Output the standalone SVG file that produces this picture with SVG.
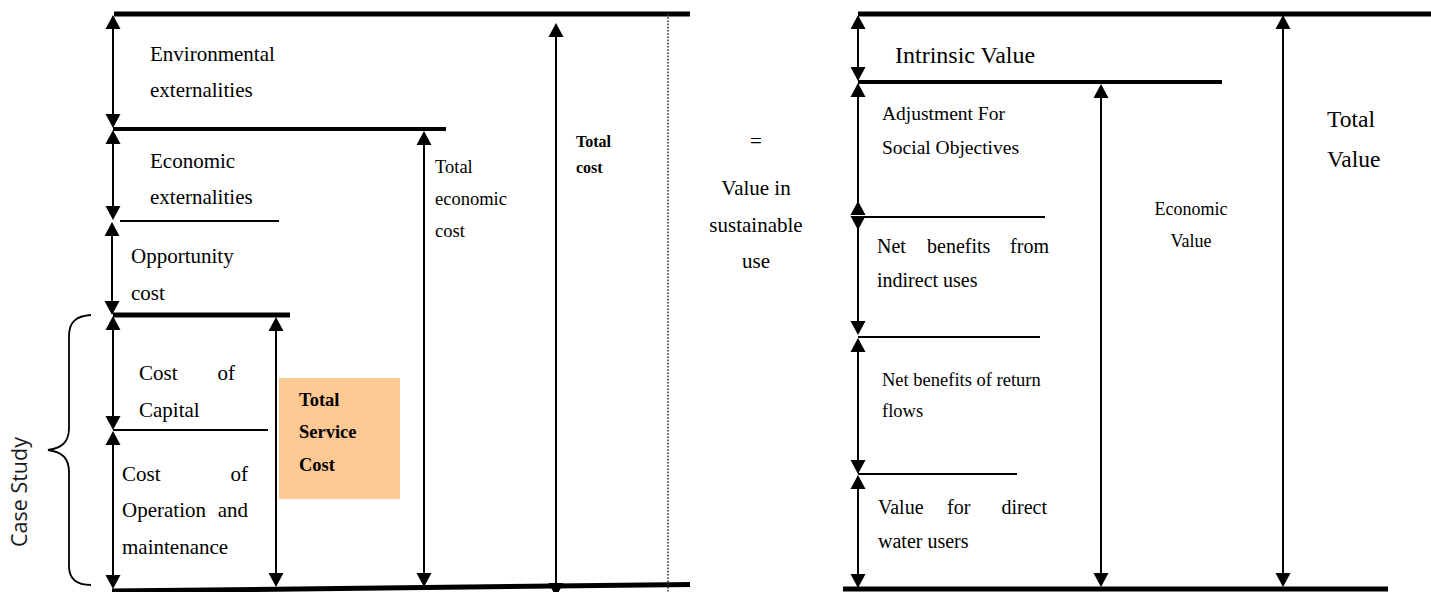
<svg xmlns="http://www.w3.org/2000/svg" width="1431" height="592" viewBox="0 0 1431 592">
<style>
  .t{font-family:"Liberation Serif","Times New Roman",serif;fill:#000}
  .b{font-weight:bold}
  .thick{stroke:#000;stroke-width:5;fill:none}
  .mid{stroke:#000;stroke-width:4;fill:none}
  .thin{stroke:#000;stroke-width:2;fill:none}
  .shaft{stroke:#000;stroke-width:2;fill:none}
  .ah{fill:#000}
</style>
<defs>
  <path id="up" class="ah" d="M0,0 L-7.5,14 L7.5,14 Z"/>
  <path id="dn" class="ah" d="M0,0 L-7.5,-14 L7.5,-14 Z"/>
</defs>
<rect width="1431" height="592" fill="#fff"/>

<!-- level lines -->
<g id="levels">
  <line class="thick" x1="114" y1="14" x2="690" y2="14"/>
  <line class="mid" x1="113" y1="129" x2="446" y2="129"/>
  <line class="thin" x1="120" y1="221" x2="279" y2="221"/>
  <line class="thick" x1="113" y1="315" x2="290" y2="315"/>
  <line class="thin" x1="113" y1="430" x2="268" y2="430"/>
  <line class="thick" x1="112" y1="591" x2="690" y2="584.5"/>
  <line x1="668" y1="14" x2="668" y2="592" stroke="#333" stroke-width="1.6" stroke-dasharray="1.6 1.6"/>

  <line class="thick" x1="858" y1="14" x2="1431" y2="14"/>
  <line class="mid" x1="858" y1="82" x2="1222" y2="82"/>
  <line class="thin" x1="852" y1="217" x2="1045" y2="217"/>
  <line class="thin" x1="858" y1="337" x2="1040" y2="337"/>
  <line class="thin" x1="858" y1="474" x2="1017" y2="474"/>
  <line class="thick" x1="843" y1="589" x2="1388" y2="589"/>
</g>

<!-- connectors (dimension arrows) -->
<g id="connectors">
  <!-- left stack -->
  <line class="shaft" x1="113" y1="20" x2="113" y2="122"/>
  <use href="#up" x="113" y="15"/><use href="#dn" x="113" y="128"/>
  <line class="shaft" x1="113" y1="136" x2="113" y2="214"/>
  <use href="#up" x="113" y="130"/><use href="#dn" x="113" y="220"/>
  <line class="shaft" x1="112" y1="228" x2="112" y2="309"/>
  <use href="#up" x="112" y="222"/><use href="#dn" x="112" y="315"/>
  <line class="shaft" x1="113" y1="322" x2="113" y2="424"/>
  <use href="#up" x="113" y="316"/><use href="#dn" x="113" y="430"/>
  <line class="shaft" x1="113" y1="437" x2="113" y2="583"/>
  <use href="#up" x="113" y="431"/><use href="#dn" x="113" y="589"/>

  <line class="shaft" x1="276" y1="323" x2="276" y2="581"/>
  <use href="#up" x="276" y="317"/><use href="#dn" x="276" y="587"/>

  <line class="shaft" x1="424" y1="137" x2="424" y2="581"/>
  <use href="#up" x="424" y="131"/><use href="#dn" x="424" y="587"/>

  <line class="shaft" x1="556" y1="29" x2="556" y2="588"/>
  <use href="#up" x="556" y="23"/><use href="#dn" x="556" y="597"/>

  <!-- right stack -->
  <line class="shaft" x1="858" y1="21" x2="858" y2="75"/>
  <use href="#up" x="858" y="15"/><use href="#dn" x="858" y="81"/>
  <line class="shaft" x1="858" y1="90" x2="858" y2="208"/>
  <use href="#up" x="858" y="83"/><use href="#up" x="858" y="201"/>
  <use href="#dn" x="858" y="230"/>
  <line class="shaft" x1="858" y1="224" x2="858" y2="328"/>
  <use href="#dn" x="858" y="335"/>
  <line class="shaft" x1="858" y1="344" x2="858" y2="467"/>
  <use href="#up" x="858" y="338"/><use href="#dn" x="858" y="474"/>
  <line class="shaft" x1="858" y1="481" x2="858" y2="581"/>
  <use href="#up" x="858" y="475"/><use href="#dn" x="858" y="588"/>

  <line class="shaft" x1="1101" y1="90" x2="1101" y2="581"/>
  <use href="#up" x="1101" y="84"/><use href="#dn" x="1101" y="587"/>

  <line class="shaft" x1="1283" y1="21" x2="1283" y2="581"/>
  <use href="#up" x="1283" y="15"/><use href="#dn" x="1283" y="587"/>
</g>

<!-- brace -->
<g id="case-study">
  <path d="M91,315 C76,316 69,322 69,336 L69,428 C69,442 62,448 48,450 C62,452 69,458 69,472 L69,566 C69,579 76,585 91,585" fill="none" stroke="#000" stroke-width="1.8"/>
  <text transform="translate(27,492) rotate(-90)" text-anchor="middle" font-family="'Open Sans','Noto Sans',sans-serif" font-size="21.5" fill="#1a1a1a">Case Study</text>
</g>

<g id="env-ext" class="t" font-size="21">
  <text x="150" y="61">Environmental</text>
  <text x="150" y="97">externalities</text>
</g>
<g id="econ-ext" class="t" font-size="21">
  <text x="150" y="168">Economic</text>
  <text x="150" y="204">externalities</text>
</g>
<g id="opportunity" class="t" font-size="21">
  <text x="131" y="263">Opportunity</text>
  <text x="131" y="300">cost</text>
</g>
<g id="capital" class="t" font-size="21">
  <text x="139" y="380">Cost</text>
  <text x="235" y="380" text-anchor="end">of</text>
  <text x="139" y="417">Capital</text>
</g>
<g id="om" class="t" font-size="21">
  <text x="122" y="481">Cost</text>
  <text x="248" y="481" text-anchor="end">of</text>
  <text x="122" y="517">Operation</text>
  <text x="248" y="517" text-anchor="end">and</text>
  <text x="122" y="554">maintenance</text>
</g>
<g id="total-service-cost">
  <rect x="279" y="378" width="121" height="121" fill="#FFC994"/>
  <g class="t b" font-size="18.5">
    <text x="299" y="406">Total</text>
    <text x="299" y="438">Service</text>
    <text x="299" y="471">Cost</text>
  </g>
</g>
<g id="total-economic-cost" class="t" font-size="18.5">
  <text x="435" y="173">Total</text>
  <text x="435" y="205">economic</text>
  <text x="435" y="237">cost</text>
</g>
<g id="total-cost" class="t b" font-size="16">
  <text x="576" y="147">Total</text>
  <text x="576" y="173">cost</text>
</g>
<g id="equals" class="t" font-size="21" text-anchor="middle">
  <text x="756" y="148">=</text>
  <text x="756" y="195">Value in</text>
  <text x="756" y="232">sustainable</text>
  <text x="756" y="268">use</text>
</g>

<g id="intrinsic" class="t" font-size="24">
  <text x="895" y="63">Intrinsic Value</text>
</g>
<g id="adjustment" class="t" font-size="19.5">
  <text x="882" y="120">Adjustment For</text>
  <text x="882" y="154">Social Objectives</text>
</g>
<g id="indirect" class="t" font-size="20">
  <text x="877" y="253">Net</text>
  <text x="927" y="253">benefits</text>
  <text x="1049" y="253" text-anchor="end">from</text>
  <text x="877" y="287">indirect uses</text>
</g>
<g id="return-flows" class="t" font-size="18.5">
  <text x="882" y="386">Net benefits of return</text>
  <text x="882" y="417">flows</text>
</g>
<g id="direct" class="t" font-size="20">
  <text x="878" y="514">Value</text>
  <text x="947" y="514">for</text>
  <text x="1047" y="514" text-anchor="end">direct</text>
  <text x="878" y="548">water users</text>
</g>
<g id="economic-value" class="t" font-size="18" text-anchor="middle">
  <text x="1191" y="215">Economic</text>
  <text x="1191" y="247">Value</text>
</g>
<g id="total-value" class="t" font-size="23.5">
  <text x="1327" y="127">Total</text>
  <text x="1327" y="167">Value</text>
</g>
</svg>
